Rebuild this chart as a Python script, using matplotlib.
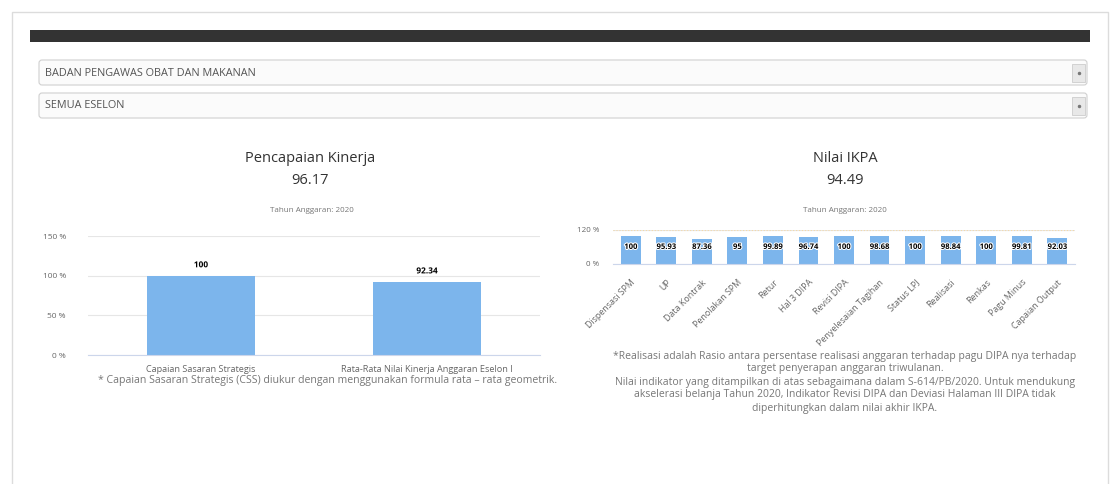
import numpy as np
import matplotlib.pyplot as plt
from matplotlib.patches import Rectangle, FancyBboxPatch
import matplotlib.patheffects as pe

plt.rcParams['font.family'] = ['Open Sans', 'DejaVu Sans']

# data
kinerja_cats = ['Capaian Sasaran Strategis', 'Rata-Rata Nilai Kinerja Anggaran Eselon I']
kinerja_vals = [100, 92.34]
kinerja_total = '96.17'

ikpa_cats = ['Dispensasi SPM', 'UP', 'Data Kontrak', 'Penolakan SPM', 'Retur',
             'Hal 3 DIPA', 'Revisi DIPA', 'Penyelesaian Tagihan', 'Status LPJ',
             'Realisasi', 'Renkas', 'Pagu Minus', 'Capaian Output']
ikpa_vals = [100, 95.93, 87.36, 95, 99.89, 96.74, 100, 98.68, 100, 98.84, 100, 99.81, 92.03]
ikpa_labels = ['100', '95.93', '87.36', '95', '99.89', '96.74', '100', '98.68', '100',
               '98.84', '100', '99.81', '92.03']
ikpa_total = '94.49'

W, H = 1118, 484
fig = plt.figure(figsize=(W / 100, H / 100), dpi=100)
fig.patch.set_facecolor('white')

# background layer in pixel coords
bg = fig.add_axes([0, 0, 1, 1], zorder=-5)
bg.set_xlim(0, W)
bg.set_ylim(H, 0)
bg.axis('off')

bg.add_patch(Rectangle((12, 12), 1096, 480, fc='white', ec='#dcdcdc', lw=1))
bg.add_patch(Rectangle((30, 30), 1060, 12, fc='#333333', ec='none'))

for y0, txt in [(60, 'BADAN PENGAWAS OBAT DAN MAKANAN'), (93, 'SEMUA ESELON')]:
    bg.add_patch(FancyBboxPatch((39, y0), 1048, 25, boxstyle='round,pad=0,rounding_size=3',
                                fc='#fbfbfb', ec='#d0d0d0', lw=0.8))
    bg.add_patch(Rectangle((1072, y0 + 4), 13, 18, fc='#e8e8e8', ec='#cccccc', lw=0.6))
    bg.plot(1078.5, y0 + 12.5, marker='o', ms=1.5, color='#777777')
    bg.text(45, y0 + 13, txt, fontsize=7.8, color='#555555', va='center', ha='left')

GRAY = '#333333'
BAR = '#7cb5ec'
NOTE = '#777777'

# left chart titles
bg.text(310, 159, 'Pencapaian Kinerja', fontsize=10.5, color=GRAY, ha='center', va='center')
bg.text(310, 180, kinerja_total, fontsize=10.5, color=GRAY, ha='center', va='center')
bg.text(312, 210, 'Tahun Anggaran: 2020', fontsize=5.8, color='#777777', ha='center', va='center')
bg.text(328, 381, '* Capaian Sasaran Strategis (CSS) diukur dengan menggunakan formula rata \u2013 rata geometrik.',
        fontsize=7.6, color=NOTE, ha='center', va='center')

# right chart titles
bg.text(845, 159, 'Nilai IKPA', fontsize=10.5, color=GRAY, ha='center', va='center')
bg.text(845, 180, ikpa_total, fontsize=10.5, color=GRAY, ha='center', va='center')
bg.text(845, 210, 'Tahun Anggaran: 2020', fontsize=5.8, color='#777777', ha='center', va='center')
notes = ['*Realisasi adalah Rasio antara persentase realisasi anggaran terhadap pagu DIPA nya terhadap',
         'target penyerapan anggaran triwulanan.',
         'Nilai indikator yang ditampilkan di atas sebagaimana dalam S-614/PB/2020. Untuk mendukung',
         'akselerasi belanja Tahun 2020, Indikator Revisi DIPA dan Deviasi Halaman III DIPA tidak',
         'diperhitungkan dalam nilai akhir IKPA.']
for i, line in enumerate(notes):
    bg.text(845, 356 + i * 13, line, fontsize=7.5, color=NOTE, ha='center', va='center')


def px_axes(x0, x1, ytop, ybot):
    return fig.add_axes([x0 / W, 1 - ybot / H, (x1 - x0) / W, (ybot - ytop) / H])


outline = [pe.withStroke(linewidth=1.5, foreground='white')]

# Pencapaian Kinerja
ax1 = px_axes(88, 540, 236, 355)
x1 = np.arange(len(kinerja_vals))
ax1.bar(x1, kinerja_vals, width=0.48, color=BAR, zorder=2)
ax1.set_xlim(-0.5, len(kinerja_vals) - 0.5)
ax1.set_ylim(0, 150)
ax1.set_yticks([0, 50, 100, 150])
ax1.set_yticklabels(['0 %', '50 %', '100 %', '150 %'])
ax1.set_xticks(x1)
ax1.set_xticklabels(kinerja_cats)
for xi, v in zip(x1, kinerja_vals):
    ax1.text(xi, v + 8, f'{v:g}', ha='center', va='bottom', fontsize=6, fontweight='bold',
             color='black', path_effects=outline)

# Nilai IKPA
ax2 = px_axes(613, 1075, 230, 264)
x2 = np.arange(len(ikpa_vals))
ax2.bar(x2, ikpa_vals, width=0.56, color=BAR, zorder=2)
ax2.set_xlim(-0.5, len(ikpa_vals) - 0.5)
ax2.set_ylim(0, 120)
ax2.set_yticks([0, 120])
ax2.set_yticklabels(['0 %', '120 %'])
ax2.set_xticks(x2)
ax2.set_xticklabels(ikpa_cats, rotation=45, ha='right', rotation_mode='anchor')
ax2.axhline(120, color='#f5d9a8', lw=0.8, ls=':', zorder=1)
for xi, v, lab in zip(x2, ikpa_vals, ikpa_labels):
    ax2.text(xi, 62, lab, ha='center', va='center', fontsize=5.5, fontweight='bold',
             color='black', path_effects=outline, zorder=3)

for ax in (ax1, ax2):
    ax.set_facecolor('none')
    for s in ax.spines.values():
        s.set_visible(False)
    ax.spines['bottom'].set_visible(True)
    ax.spines['bottom'].set_color('#ccd6eb')
    ax.spines['bottom'].set_linewidth(0.8)
    ax.grid(axis='y', color='#e6e6e6', lw=0.8, zorder=0)
    ax.set_axisbelow(True)
    ax.tick_params(axis='y', length=0, labelsize=6, labelcolor='#666666', pad=16)
    ax.tick_params(axis='x', length=0, labelsize=6.6, labelcolor='#666666', pad=7)

ax2.tick_params(axis='y', pad=10, labelsize=5.8)
ax2.tick_params(axis='x', pad=10, labelsize=6.4)

fig.savefig('out.png', dpi=100)
